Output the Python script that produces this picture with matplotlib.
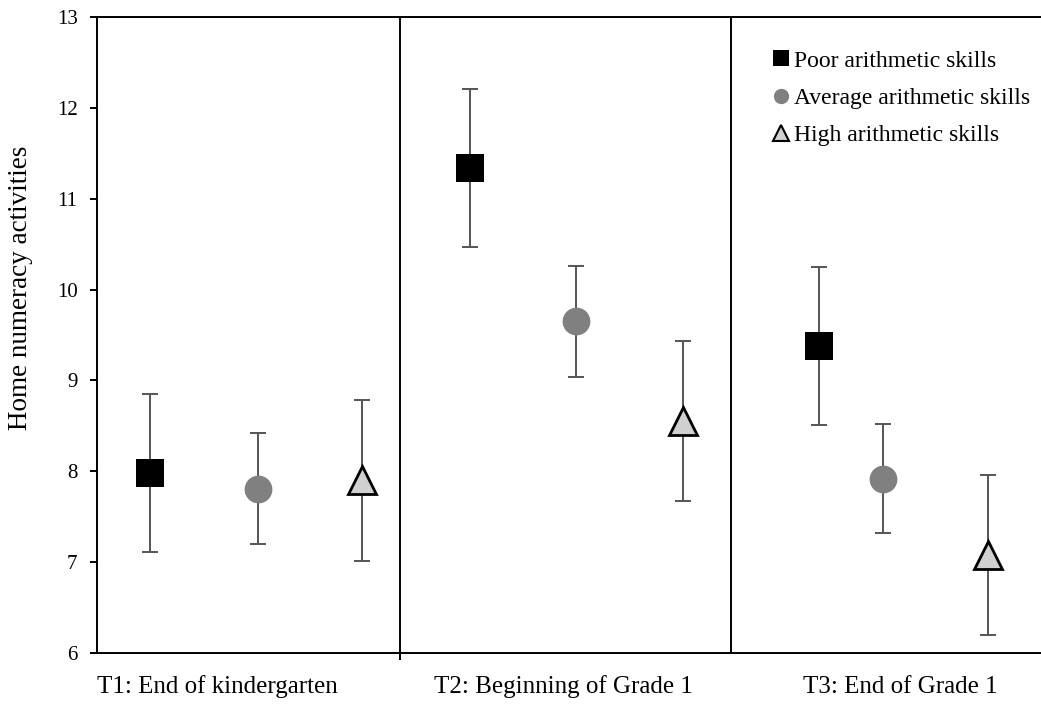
import numpy as np
import matplotlib
matplotlib.use("Agg")
import matplotlib.pyplot as plt
from matplotlib.lines import Line2D

# data
timepoints = ["T1: End of kindergarten", "T2: Beginning of Grade 1", "T3: End of Grade 1"]
groups = ["Poor arithmetic skills", "Average arithmetic skills", "High arithmetic skills"]
poor_mean = [7.98, 11.34, 9.38]
poor_err = [0.87, 0.87, 0.87]
avg_mean = [7.81, 9.65, 7.92]
avg_err = [0.615, 0.61, 0.60]
high_mean = [7.90, 8.55, 7.08]
high_err = [0.89, 0.88, 0.88]

# layout (x in "timepoint" units)
pos = {
    "poor": [-0.338, 0.664, 1.755],
    "avg": [0.0, 0.995, 1.955],
    "high": [0.326, 1.33, 2.284],
}
label_x = [-0.128, 0.955, 2.01]
dividers = [0.444, 1.48]

plt.rcParams['font.family'] = ['Liberation Serif', 'DejaVu Serif']

fig = plt.figure(figsize=(10.41, 7.15), dpi=100)
ax = fig.add_axes([0.0932, 0.0867, 1.0 - 0.0932, 0.9762 - 0.0867])

ebar = dict(fmt="none", ecolor="#555555", elinewidth=1.4, capsize=6, capthick=1.4, zorder=2)
styles = [
    ("poor", poor_mean, poor_err, dict(marker="s", mfc="black", mec="black", mew=0)),
    ("avg", avg_mean, avg_err, dict(marker="o", mfc="#808080", mec="#808080", mew=0)),
    ("high", high_mean, high_err, dict(marker="^", mfc="#d0d0d0", mec="black", mew=2)),
]
handles = []
for (key, m, e, st), g in zip(styles, groups):
    ax.errorbar(pos[key], m, yerr=e, **ebar)
    ax.plot(pos[key], m, linestyle="none", ms=20, zorder=3, **st)
    hst = dict(st)
    if key == "high":
        hst["mew"] = 1.5
    handles.append(Line2D([], [], linestyle="none", ms=11, label=g, **hst))

for d in dividers:
    ax.axvline(d, color="black", lw=1.4, zorder=1)

ax.set_xlim(-0.504, 2.451)
ax.set_ylim(6, 13)
ax.set_yticks(np.arange(6, 14, 1))
ax.tick_params(axis="y", direction="out", length=5, width=1.4, labelsize=15, pad=9)
ax.set_xticks([])
ax.set_xticks([dividers[0]], minor=True)
ax.tick_params(axis="x", which="minor", direction="out", length=5, width=1.4, labelbottom=False)

for s in ["left", "bottom", "top"]:
    ax.spines[s].set_linewidth(1.4)
ax.spines["right"].set_visible(False)

ax.set_ylabel("Home numeracy activities", fontsize=19.5)
ax.yaxis.set_label_coords(-0.068, 0.574)

for x, t in zip(label_x, timepoints):
    ax.text(x, -0.053, t, transform=ax.get_xaxis_transform(), ha="center", va="center", fontsize=18)

ax.legend(handles=handles, loc="upper right", bbox_to_anchor=(0.998, 0.963), frameon=False,
          fontsize=17, handlelength=0.6, handletextpad=0.25, labelspacing=0.67,
          borderaxespad=0)

fig.savefig("out.png", dpi=100)
